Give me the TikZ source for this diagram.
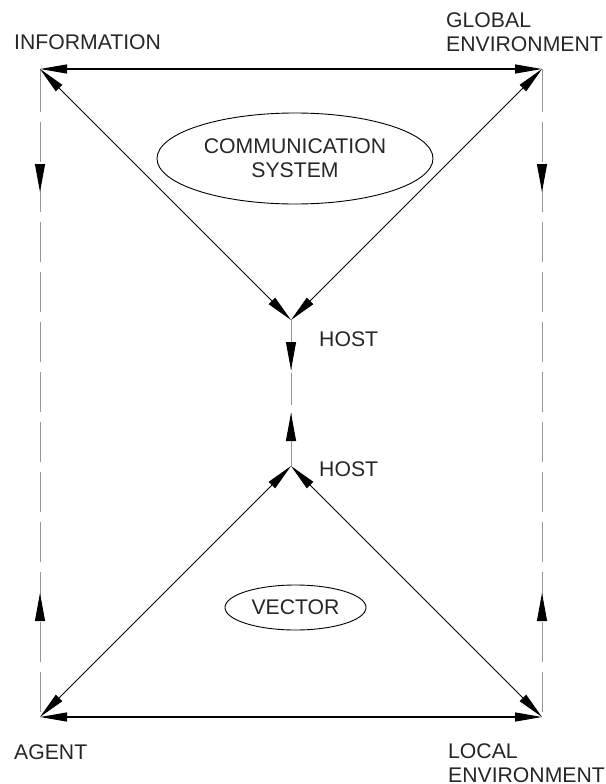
\documentclass[tikz,border=0pt]{standalone}
\usepackage{fontspec}
\setmainfont{Liberation Sans}
\usetikzlibrary{arrows.meta,shapes.geometric,decorations.markings}
\definecolor{dashgray}{RGB}{150,150,150}
\tikzset{
  lbl/.style={font=\fontsize{21.2}{24}\selectfont, inner sep=0pt, text=black!85},
  conn/.style={line width=0.9pt, {Triangle[length=27pt,width=9pt]}-{Triangle[length=27pt,width=9pt]}},
  hconn/.style={conn, line width=1.2pt},
  grayline/.style={draw=dashgray, line width=1pt},
  sidedash/.style={grayline, dash pattern=on 43pt off 10pt on 40pt off 10pt on 40pt off 10pt on 40pt off 10pt on 40pt off 10pt on 40pt off 10pt on 40pt off 10pt on 40pt off 10pt on 40pt off 10pt on 40pt off 10pt on 40pt off 10pt on 40pt off 10pt on 40pt off 10pt on 40pt off 10pt},
  flowmarks/.style 2 args={postaction={decorate}, decoration={markings,
     mark=at position #1 with {\arrow[black]{Triangle[length=28pt,width=10pt]}},
     mark=at position #2 with {\arrowreversed[black]{Triangle[length=28pt,width=10pt]}}}},
  oval/.style={lbl, ellipse, draw=black, line width=0.9pt, align=center}
}
\begin{document}
\begin{tikzpicture}[x=1pt,y=-1pt]
\useasboundingbox (0,0) rectangle (605,784);
\coordinate (info) at (40,69);
\coordinate (glob) at (542,69);
\coordinate (agent) at (40,717);
\coordinate (local) at (542,717);
\coordinate (htop) at (291,320);
\coordinate (hbot) at (291,466);

\node[lbl, anchor=base west] (tinfo) at (14,50) {INFORMATION};
\node[lbl, anchor=base west, align=left] (tglob) at (446,52) {GLOBAL\\ENVIRONMENT};
\node[lbl, anchor=base west] (tagent) at (14,759) {AGENT};
\node[lbl, anchor=base west, align=left] (tlocal) at (448,782) {LOCAL\\ENVIRONMENT};
\node[lbl, anchor=base west] (thtop) at (319,346) {HOST};
\node[lbl, anchor=base west] (thbot) at (319,476) {HOST};
\node[oval, minimum width=276pt, minimum height=91pt] (comm) at (295,158.5) {COMMUNICATION\\SYSTEM};
\node[oval, minimum width=141pt, minimum height=45pt] (vec) at (295.5,607.5) {VECTOR};

% dashed side lines with direction marks
\draw[sidedash, flowmarks={123pt}{524pt}] (info) -- (agent);
\draw[sidedash, flowmarks={123pt}{524pt}] (glob) -- (local);
% middle host link
\draw[grayline, dash pattern=on 50pt off 3pt on 32pt off 8pt on 60pt, flowmarks={50pt}{93pt}] (htop) -- (hbot);

% solid connectors
\draw[hconn] (info) -- (glob);
\draw[hconn] (agent) -- (local);
\draw[conn] (info) -- (htop);
\draw[conn] (glob) -- (htop);
\draw[conn] (agent) -- (hbot);
\draw[conn] (local) -- (hbot);
\end{tikzpicture}
\end{document}
